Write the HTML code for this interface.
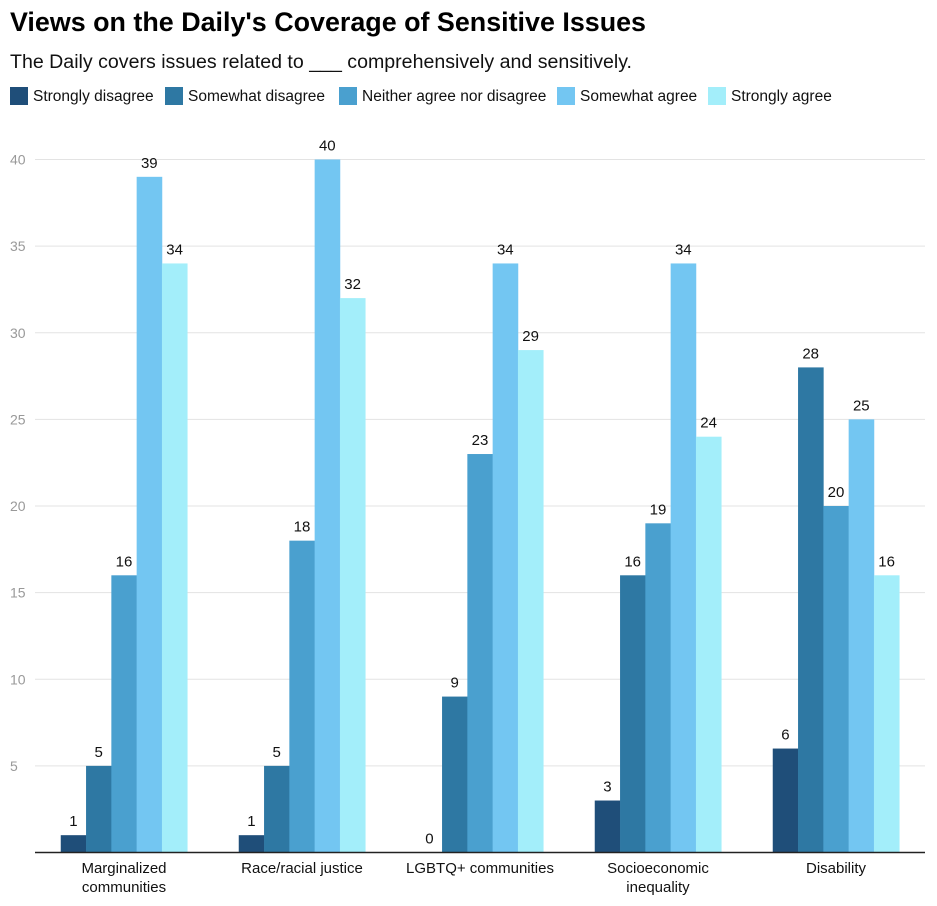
<!DOCTYPE html>
<html><head><meta charset="utf-8"><style>
body{margin:0;background:#fff;width:937px;height:901px;overflow:hidden;font-family:"Liberation Sans",sans-serif}
</style></head><body>
<svg width="937" height="901" id="c" style="font-family:'Liberation Sans',sans-serif">
<text x="10" y="31" font-size="27" font-weight="bold" fill="#000" textLength="636" lengthAdjust="spacingAndGlyphs">Views on the Daily's Coverage of Sensitive Issues</text>
<text x="10" y="68" font-size="19" fill="#111" textLength="622" lengthAdjust="spacingAndGlyphs">The Daily covers issues related to ___ comprehensively and sensitively.</text>
<g id="legend"></g>
<g id="grid"></g>
<g id="bars"></g>
<g id="xl"></g>
</svg>
<script>
const categories=[["Marginalized","communities"],["Race/racial justice"],["LGBTQ+ communities"],["Socioeconomic","inequality"],["Disability"]];
const seriesNames=["Strongly disagree","Somewhat disagree","Neither agree nor disagree","Somewhat agree","Strongly agree"];
const stronglyDisagree=[1,1,0,3,6];
const somewhatDisagree=[5,5,9,16,28];
const neither=[16,18,23,19,20];
const somewhatAgree=[39,40,34,34,25];
const stronglyAgree=[34,32,29,24,16];
const yTicks=[5,10,15,20,25,30,35,40];
const colors=["#1f4e79","#2e78a3","#4aa0cf","#73c6f2","#a3eefa"];
const series=[stronglyDisagree,somewhatDisagree,neither,somewhatAgree,stronglyAgree];
const NS="http://www.w3.org/2000/svg";
const x0=35,x1=925,y0=852.5,yTop=159.5;
const y=v=>y0-(v/40)*(y0-yTop);
const bw=(x1-x0)/categories.length;
const barW=25.3;
function mk(tag,attrs,parent,txt){const e=document.createElementNS(NS,tag);for(const k in attrs)e.setAttribute(k,attrs[k]);if(txt!==undefined)e.textContent=txt;parent.appendChild(e);return e;}
const grid=document.getElementById('grid');
yTicks.forEach(t=>{
 const l=mk('line',{x1:x0,x2:x1,y1:y(t),y2:y(t),stroke:'#e3e3e3','stroke-width':1},grid);
 
 
 const tx=mk('text',{x:10,y:y(t)+5,'font-size':14,fill:'#999'},grid,t);
 
 
});
const bars=document.getElementById('bars');
categories.forEach((c,i)=>{
 const cx=x0+bw*(i+0.5);
 series.forEach((s,j)=>{
  const bx=cx-2.5*barW+j*barW;
  const r=mk('rect',{x:bx,y:y(s[i]),width:barW+0.3,height:y0-y(s[i]),fill:colors[j]},bars);
  
  
  const t=mk('text',{x:bx+barW/2,y:y(s[i])-9,'font-size':15,'text-anchor':'middle',fill:'#111'},bars,s[i]);
  
  
 });
 const xl=document.getElementById('xl');
 c.forEach((line,k)=>{
  const t=mk('text',{x:cx,y:873+k*19,'font-size':15,'text-anchor':'middle',fill:'#111'},xl,line);
  
  
 });
});
const ax=mk('line',{x1:x0,x2:x1,y1:y0,y2:y0,stroke:'#222','stroke-width':1.5},document.getElementById('c'));


const leg=document.getElementById('legend');
const legX=[10,165,339,557,708];
seriesNames.forEach((n,j)=>{
 const r=mk('rect',{x:legX[j],y:87,width:18,height:18,fill:colors[j]},leg);
 
 
 const t=mk('text',{x:legX[j]+23,y:101,'font-size':15.5,fill:'#111'},leg,n);
 
 
});
</script>
</body></html>
